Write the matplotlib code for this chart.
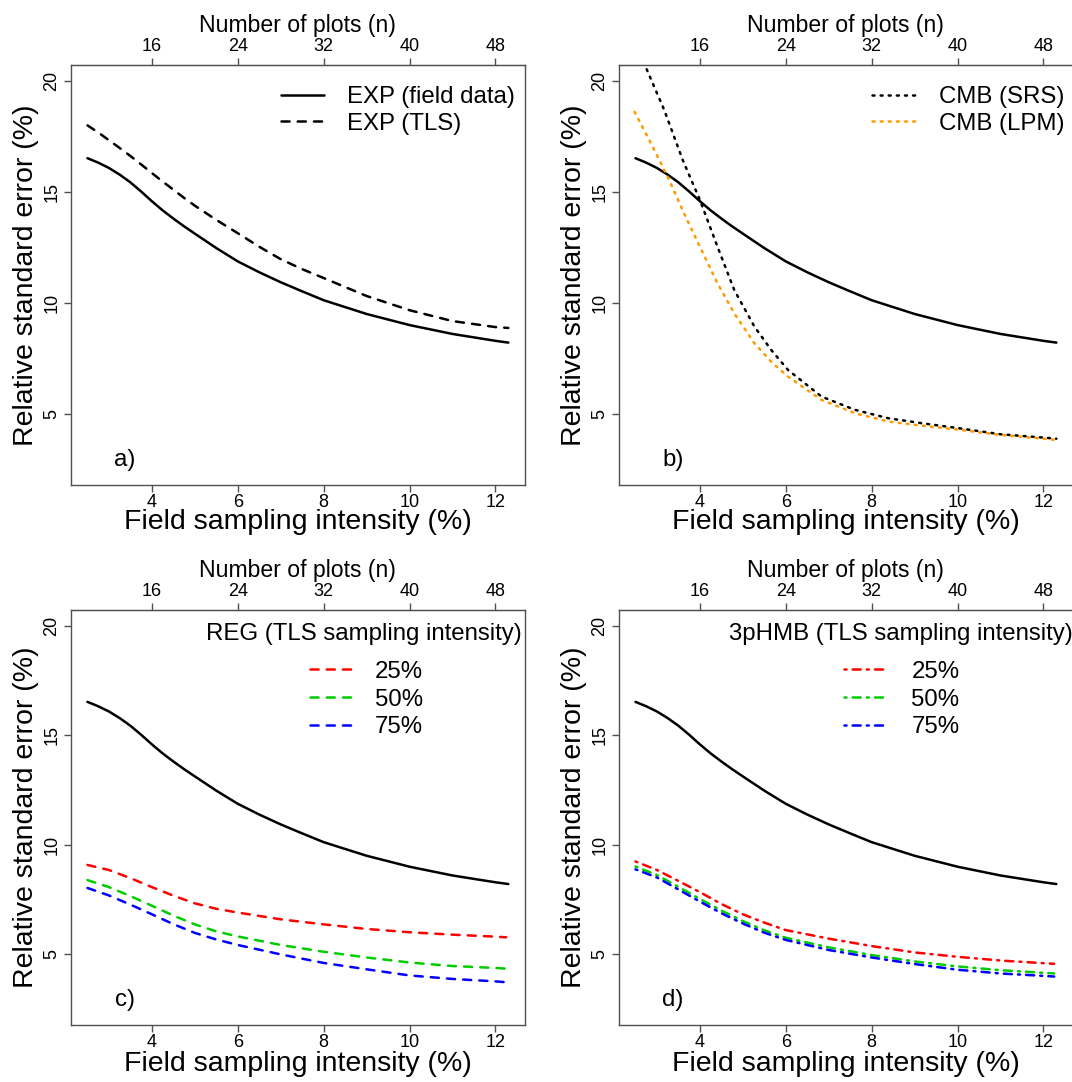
import numpy as np
import matplotlib
matplotlib.use("Agg")
import matplotlib.pyplot as plt

plt.rcParams['font.family'] = ['Liberation Sans', 'DejaVu Sans']
plt.rcParams['lines.scale_dashes'] = False

# --- data ---
# field sampling intensity (%) ; n = 4 * intensity
x_field = [2.5, 2.75, 3, 3.25, 3.5, 3.75, 4, 4.25, 4.5, 4.75, 5, 5.5, 6, 6.5, 7, 7.5, 8,
           9, 10, 11, 12, 12.3]
exp_field = [16.52, 16.32, 16.08, 15.78, 15.43, 15.02, 14.58, 14.17, 13.80, 13.45, 13.12,
             12.47, 11.87, 11.38, 10.93, 10.52, 10.12, 9.50, 9.00, 8.60, 8.29, 8.21]
exp_tls = [18.00, 17.68, 17.33, 16.98, 16.62, 16.24, 15.85, 15.47, 15.10, 14.73, 14.38,
           13.74, 13.14, 12.53, 11.97, 11.52, 11.12, 10.31, 9.67, 9.18, 8.91, 8.87]

x_srs = [2.76, 3.17, 3.60, 4.00, 4.41, 4.80, 5.27, 5.66, 6.05, 6.83, 7.61, 8.39,
         9.16, 10, 11, 12, 12.3]
cmb_srs = [20.53, 18.69, 16.44, 14.64, 12.53, 10.58, 8.93, 7.88, 6.98, 5.78, 5.18,
           4.80, 4.58, 4.36, 4.08, 3.93, 3.88]
x_lpm = [2.48, 2.86, 3.25, 3.63, 4.00, 4.41, 4.80, 5.27, 5.66, 6.05, 6.83, 7.61,
         8.39, 9.16, 10, 11, 12, 12.3]
cmb_lpm = [18.61, 17.19, 15.68, 14.04, 12.53, 10.88, 9.53, 8.18, 7.35, 6.68, 5.63,
           5.03, 4.65, 4.47, 4.29, 4.05, 3.88, 3.82]

x_tls = [2.5, 3, 3.5, 4, 4.5, 5, 5.5, 6, 7, 8, 9, 10, 11, 12, 12.25]
reg_25 = [9.08, 8.85, 8.48, 8.07, 7.68, 7.33, 7.08, 6.91, 6.60, 6.37, 6.16, 6.01, 5.90, 5.81, 5.78]
reg_50 = [8.39, 8.07, 7.66, 7.22, 6.77, 6.37, 6.05, 5.82, 5.43, 5.12, 4.86, 4.63, 4.47, 4.38, 4.35]
reg_75 = [8.03, 7.69, 7.27, 6.83, 6.38, 5.98, 5.68, 5.43, 5.00, 4.61, 4.32, 4.04, 3.88, 3.77, 3.73]

hmb_25 = [9.24, 8.85, 8.35, 7.84, 7.30, 6.83, 6.45, 6.11, 5.72, 5.38, 5.09, 4.89, 4.72, 4.60, 4.57]
hmb_50 = [9.01, 8.62, 8.08, 7.53, 7.00, 6.52, 6.10, 5.76, 5.32, 4.97, 4.68, 4.45, 4.28, 4.16, 4.13]
hmb_75 = [8.88, 8.51, 7.96, 7.41, 6.88, 6.41, 5.99, 5.66, 5.20, 4.86, 4.56, 4.30, 4.13, 4.02, 3.99]

tls_labels = ["25%", "50%", "75%"]
tls_colors = ["#FF0000", "#00CD00", "#0000FF"]

x_ticks = [4, 6, 8, 10, 12]
n_ticks = [16, 24, 32, 40, 48]
y_ticks = [5, 10, 15, 20]

# --- styling ---
LW = 1.8
U = 1.46
DASHED = (0, (4 * U, 4 * U))
DOTTED = (0, (U, 3 * U))
DOTDASH = (0, (U, 3 * U, 4 * U, 3 * U))
FRAME = '#505050'
FS_TICK = 13
FS_LAB = 20.5
FS_TOP = 16.6
FS_LEG = 17.3


def line(ax, x, y, ls='-', color='black'):
    return ax.plot(x, y, ls=ls, color=color, lw=LW, solid_capstyle='round',
                   dash_capstyle='round', solid_joinstyle='round')[0]


def setup(ax, letter, xlabelpad):
    ax.set_xlim(2.108, 12.692)
    ax.set_ylim(1.8, 20.7)
    for s in ax.spines.values():
        s.set_color(FRAME)
        s.set_linewidth(1.0)
    ax.set_xticks(x_ticks)
    ax.set_yticks(y_ticks)
    ax.tick_params(axis='x', length=5, width=1.0, color=FRAME, pad=1.5, labelsize=FS_TICK)
    ax.tick_params(axis='y', length=5, width=1.0, color=FRAME, pad=2.4, labelsize=FS_TICK)
    for lab in ax.get_yticklabels():
        lab.set_rotation(90)
        lab.set_va('center')
    ax.set_xlabel('Field sampling intensity (%)', fontsize=FS_LAB, labelpad=xlabelpad)
    ax.set_ylabel('Relative standard error (%)', fontsize=FS_LAB, labelpad=2.9)
    sec = ax.secondary_xaxis('top', functions=(lambda x: x * 4, lambda n: n / 4))
    sec.set_xticks(n_ticks)
    sec.tick_params(axis='x', length=5, width=1.0, color=FRAME, pad=2.3, labelsize=FS_TICK)
    sec.spines['top'].set_color(FRAME)
    sec.set_xlabel('Number of plots (n)', fontsize=FS_TOP, labelpad=4.7)
    ax.text(0.119, 0.059, letter, transform=ax.transAxes, ha='center', va='center',
            fontsize=FS_LEG)


def legend(ax, handles, labels, x, y, hl, hp, sp):
    ax.legend(handles, labels, loc='upper right', bbox_to_anchor=(x, y),
              frameon=False, fontsize=FS_LEG, borderpad=0, borderaxespad=0,
              handlelength=hl, handletextpad=hp, labelspacing=sp)


fig = plt.figure(figsize=(10.72, 10.82), dpi=100)
W, H = 0.4240, 0.3876
ax_a = fig.add_axes([0.0659, 0.5519, W, H])
ax_b = fig.add_axes([0.5771, 0.5519, W, H])
ax_c = fig.add_axes([0.0659, 0.0531, W, 0.3829])
ax_d = fig.add_axes([0.5771, 0.0531, W, 0.3829])

# a) EXP
h1 = line(ax_a, x_field, exp_field)
h2 = line(ax_a, x_field, exp_tls, DASHED)
setup(ax_a, 'a)', -1.5)
legend(ax_a, [h1, h2], ['EXP (field data)', 'EXP (TLS)'], 0.977, 0.951, 1.79, 0.93, 0.2)

# b) CMB
line(ax_b, x_field, exp_field)
h1 = line(ax_b, x_srs, cmb_srs, DOTTED, 'black')
h2 = line(ax_b, x_lpm, cmb_lpm, DOTTED, '#FF9A00')
setup(ax_b, 'b)', -1.5)
legend(ax_b, [h1, h2], ['CMB (SRS)', 'CMB (LPM)'], 0.981, 0.951, 1.92, 0.88, 0.2)

# c) REG
line(ax_c, x_field, exp_field)
hs = [line(ax_c, x_tls, v, DASHED, c) for v, c in zip([reg_25, reg_50, reg_75], tls_colors)]
setup(ax_c, 'c)', 0)
ax_c.text(0.9925, 0.928, 'REG (TLS sampling intensity)', transform=ax_c.transAxes,
          ha='right', va='baseline', fontsize=FS_LEG)
legend(ax_c, hs, tls_labels, 0.7756, 0.878, 1.8, 0.9, 0.24)

# d) 3pHMB
line(ax_d, x_field, exp_field)
hs = [line(ax_d, x_tls, v, DOTDASH, c) for v, c in zip([hmb_25, hmb_50, hmb_75], tls_colors)]
setup(ax_d, 'd)', 0)
ax_d.text(0.998, 0.928, '3pHMB (TLS sampling intensity)', transform=ax_d.transAxes,
          ha='right', va='baseline', fontsize=FS_LEG)
legend(ax_d, hs, tls_labels, 0.75, 0.878, 1.8, 1.0, 0.24)

fig.savefig('out.png', dpi=100)
